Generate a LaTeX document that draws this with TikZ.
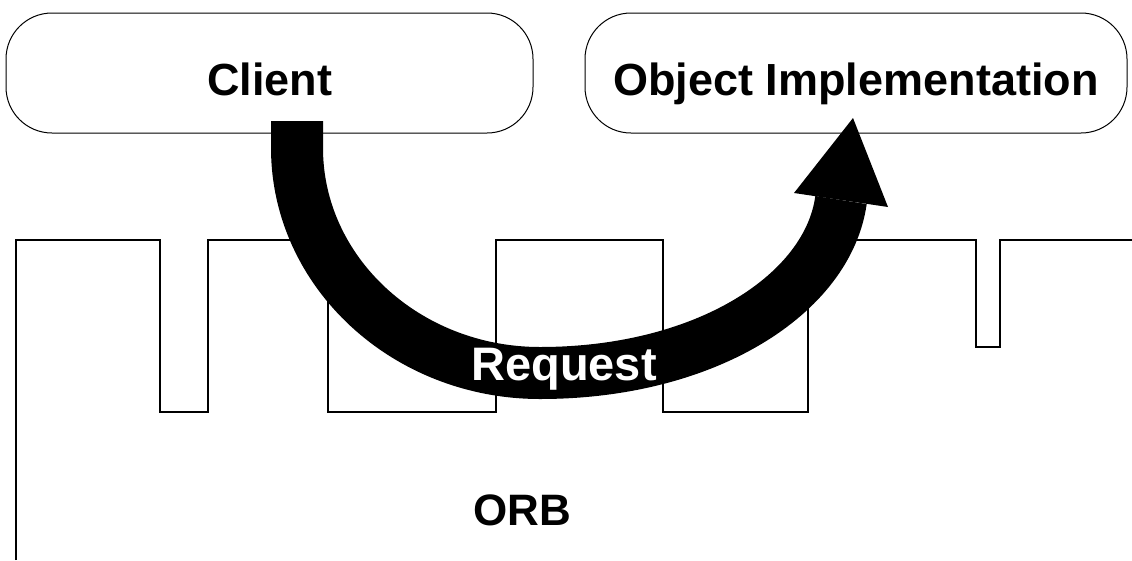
\documentclass[tikz,border=0pt]{standalone}
\usepackage{fontspec}
\setmainfont{Liberation Sans}

\begin{document}
\begin{tikzpicture}[x=1pt, y=-1pt,
    box/.style={draw, line width=1pt, rounded corners=46pt, inner sep=0pt,
                text height=45pt, text depth=0pt, font=\fontsize{45}{52}\selectfont\bfseries},
    bigtext/.style={inner sep=0pt, font=\fontsize{44}{52}\selectfont\bfseries}]
  \useasboundingbox (0,0) rectangle (1132,560);
  \node [box, minimum width=527pt, minimum height=120pt] (client) at (269.5,73) {Client};
  \node [box, minimum width=542pt, minimum height=120pt] (impl) at (856,73) {Object Implementation};
  \draw [line width=2.2pt] (16,560) -- (16,240) -- (160,240) -- (160,412) -- (208,412) -- (208,240)
        -- (328,240) -- (328,412) -- (496,412) -- (496,240) -- (663,240) -- (663,412)
        -- (808,412) -- (808,240) -- (976,240) -- (976,347) -- (1000,347) -- (1000,240) -- (1132,240);
  \node [bigtext] (orb) at (522,510) {ORB};
  \coordinate (req start) at (297,121);
  \coordinate (req bend) at (297,148);
  \coordinate (req low) at (540,373);
  \coordinate (req end) at (841,200);
  \coordinate (req tip) at (853,118);
  \draw [line width=52pt] (req start) -- (req bend) .. controls (297,272) and (406,373) .. (req low)
        .. controls (706,373) and (828,294) .. (req end);
  \fill (req tip) -- (794,193) -- (888,207) -- cycle;
  \node [bigtext, text=white, font=\fontsize{47}{52}\selectfont\bfseries] (request) at (564,369) {Request};
\end{tikzpicture}
\end{document}
